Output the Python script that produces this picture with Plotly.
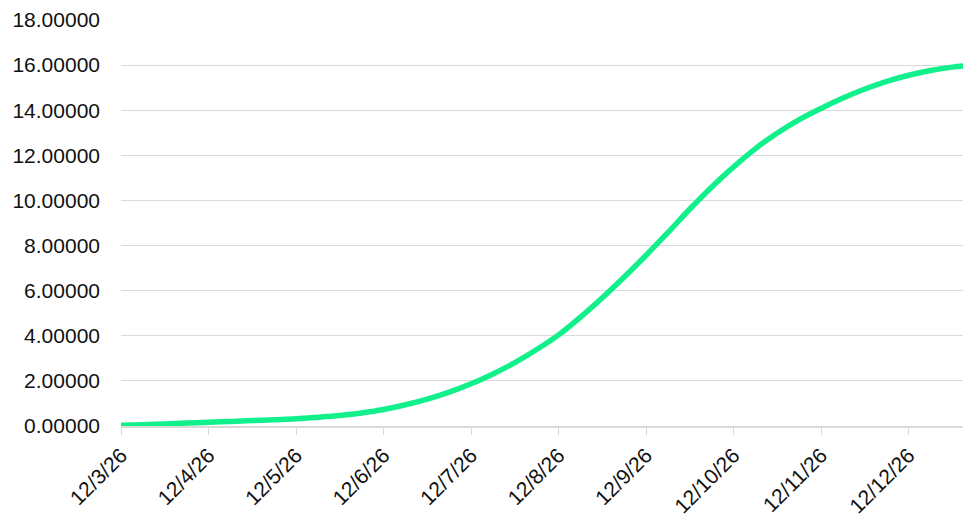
import pandas as pd
import plotly.graph_objects as go

# readings every 6 hours from 12/3/26 00:00, last one at 12/12/26 16:00
times = list(pd.date_range("2026-12-03 00:00", "2026-12-12 12:00", freq="6h")) + [pd.Timestamp("2026-12-12 16:00")]
values = [0.03, 0.06, 0.09, 0.13, 0.17, 0.20, 0.24, 0.28, 0.32, 0.39,
          0.47, 0.58, 0.73, 0.94, 1.19, 1.50, 1.87, 2.31, 2.81, 3.39,
          4.04, 4.83, 5.69, 6.61, 7.57, 8.58, 9.62, 10.60, 11.49, 12.30,
          12.99, 13.58, 14.08, 14.54, 14.94, 15.28, 15.55, 15.76, 15.91, 15.97]

y_ticks = [0, 2, 4, 6, 8, 10, 12, 14, 16, 18]
x_ticks = pd.date_range("2026-12-03", "2026-12-12", freq="D")

fig = go.Figure(go.Scatter(x=times, y=values, mode="lines",
                           line=dict(color="#12F08C", width=5.5, shape="spline", smoothing=1.0)))

# page body has an 8px margin, so the figure is sized to fit the rest of the window
fig.update_layout(
    width=963, height=508,
    margin=dict(l=113, r=4, t=12, b=90),
    paper_bgcolor="white", plot_bgcolor="white",
    font=dict(family="Liberation Sans, Arial, sans-serif", size=21, color="#111111"),
    showlegend=False,
)
fig.update_xaxes(range=[times[0], times[-1]], tickvals=x_ticks, tickformat="%-m/%-d/%y",
                 tickangle=-45, showgrid=False, showline=True, linecolor="#d9d9d9",
                 linewidth=1.5, ticks="outside", ticklen=7, tickcolor="#d9d9d9",
                 zeroline=False, automargin=False)
fig.update_yaxes(range=[0, 18], tickvals=y_ticks, tickformat=".5f", showgrid=True,
                 gridcolor="#d9d9d9", gridwidth=1, zeroline=False, showline=False,
                 ticklabelstandoff=20, automargin=False)

fig.write_html("out.html")
